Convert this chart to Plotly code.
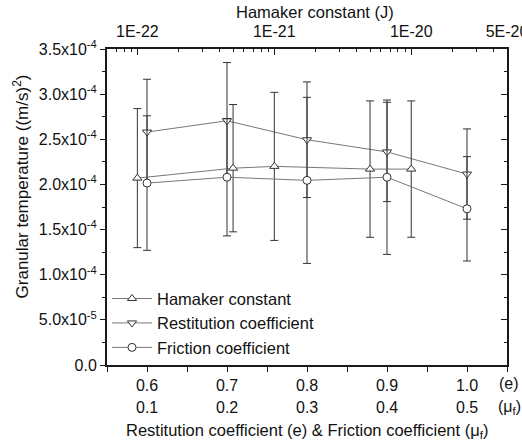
import plotly.graph_objects as go

# ---- data ----
hamaker_J = [1e-22, 5e-22, 1e-21, 5e-21, 1e-20]
hamaker_T = [2.07e-4, 2.18e-4, 2.20e-4, 2.17e-4, 2.17e-4]
hamaker_err = [0.77e-4, 0.705e-4, 0.82e-4, 0.755e-4, 0.755e-4]

restitution_e = [0.6, 0.7, 0.8, 0.9, 1.0]
restitution_T = [2.58e-4, 2.705e-4, 2.495e-4, 2.36e-4, 2.115e-4]
restitution_err = [0.585e-4, 0.645e-4, 0.64e-4, 0.55e-4, 0.50e-4]

friction_mu = [0.1, 0.2, 0.3, 0.4, 0.5]
friction_T = [2.015e-4, 2.08e-4, 2.045e-4, 2.08e-4, 1.73e-4]
friction_err = [0.745e-4, 0.65e-4, 0.92e-4, 0.855e-4, 0.578e-4]

e_ticks = [0.6, 0.7, 0.8, 0.9, 1.0]
e_ticktext = ["0.6", "0.7", "0.8", "0.9", "1.0"]
mu_ticks = [0.1, 0.2, 0.3, 0.4, 0.5]
mu_ticktext = ["0.1", "0.2", "0.3", "0.4", "0.5"]

hamaker_ticks = [1e-22, 1e-21, 1e-20, 5e-20]
hamaker_ticktext = ["1E-22", "1E-21", "1E-20", "5E-20"]
hamaker_minor = [m * 10.0 ** p for p in (-23, -22, -21, -20) for m in range(2, 10)
                 if 6e-23 < m * 10.0 ** p < 4.9e-20]

y_ticks = [0, 5e-5, 1e-4, 1.5e-4, 2e-4, 2.5e-4, 3e-4, 3.5e-4]
y_ticktext = ["0.0", "5.0x10<sup>-5</sup>", "1.0x10<sup>-4</sup>", "1.5x10<sup>-4</sup>",
              "2.0x10<sup>-4</sup>", "2.5x10<sup>-4</sup>", "3.0x10<sup>-4</sup>",
              "3.5x10<sup>-4</sup>"]

FONT = "Liberation Sans, Arial, sans-serif"
LINE = "#777777"
MK = "#333333"
AX = "#1a1a1a"

fig = go.Figure()

def series(x, y, err, name, symbol, xaxis, yaxis):
    return go.Scatter(
        x=x, y=y, name=name, xaxis=xaxis, yaxis=yaxis,
        mode="lines+markers",
        line=dict(color=LINE, width=1),
        marker=dict(symbol=symbol, size=8, color="white", line=dict(color=MK, width=1)),
        error_y=dict(type="data", array=err, visible=True, color=MK, thickness=1, width=4),
    )

fig.add_trace(series(hamaker_J, hamaker_T, hamaker_err, "Hamaker constant", "triangle-up", "x2", "y"))
fig.add_trace(series(restitution_e, restitution_T, restitution_err, "Restitution coefficient", "triangle-down", "x", "y"))
fig.add_trace(series(friction_mu, friction_T, friction_err, "Friction coefficient", "circle", "x3", "y"))
# pairs the right-hand tick axis with the main x axis so that it is drawn
fig.add_trace(go.Scatter(x=[None], y=[None], xaxis="x", yaxis="y2", showlegend=False, hoverinfo="skip"))

tickfont = dict(family=FONT, size=16, color="#111")

fig.update_layout(
    width=522, height=443,
    margin=dict(l=107, r=15, t=49, b=78, autoexpand=False),
    paper_bgcolor="white", plot_bgcolor="white",
    font=dict(family=FONT, size=16, color="#111"),
    showlegend=True,
    legend=dict(x=0.0, y=0.265, xanchor="left", yanchor="top",
                bgcolor="rgba(0,0,0,0)", font=dict(family=FONT, size=16.5, color="#111"),
                itemwidth=40, tracegroupgap=0),
    xaxis=dict(range=[0.55, 1.05], tickmode="array", tickvals=e_ticks, ticktext=e_ticktext,
               ticks="outside", ticklen=5, tickwidth=1, tickcolor=AX,
               minor=dict(ticks="outside", ticklen=5, tickwidth=1, tickcolor=AX, dtick=0.05, tick0=0.55),
               showline=True, linewidth=2, linecolor=AX, showgrid=False, zeroline=False,
               tickfont=tickfont, anchor="y", automargin=False),
    xaxis2=dict(type="log", overlaying="x", side="top", anchor="y",
                range=[-22.2218, -19.3009],
                tickmode="array", tickvals=hamaker_ticks, ticktext=hamaker_ticktext,
                ticks="inside", ticklen=6, tickwidth=1, tickcolor=AX,
                minor=dict(ticks="inside", ticklen=3, tickwidth=1, tickcolor=AX, tickvals=hamaker_minor),
                showline=True, linewidth=2, linecolor=AX, showgrid=False, zeroline=False,
                tickfont=tickfont, ticklabelstandoff=4, ticklabeloverflow="allow",
                automargin=False),
    xaxis3=dict(range=[0.05, 0.55], overlaying="x", anchor="y", visible=False, automargin=False),
    yaxis=dict(range=[0, 3.5e-4], tickmode="array", tickvals=y_ticks, ticktext=y_ticktext,
               ticks="outside", ticklen=5, tickwidth=1, tickcolor=AX,
               minor=dict(ticks="outside", ticklen=3, tickwidth=1, tickcolor=AX, dtick=2.5e-5, tick0=0),
               showline=True, linewidth=2, linecolor=AX, showgrid=False, zeroline=False,
               tickfont=tickfont, automargin=False),
    yaxis2=dict(range=[0, 3.5e-4], overlaying="y", side="right", anchor="x",
                tickmode="array", tickvals=y_ticks, showticklabels=False,
                ticks="inside", ticklen=6, tickwidth=1, tickcolor=AX,
                minor=dict(ticks="inside", ticklen=3, tickwidth=1, tickcolor=AX,
                           tickmode="array", tickvals=[v + 2.5e-5 for v in y_ticks[:-1]]),
                showline=True, linewidth=2, linecolor=AX, showgrid=False, zeroline=False,
                automargin=False),
)

# second row of bottom tick labels (friction coefficient), aligned with e ticks
for xe, lab in zip(e_ticks, mu_ticktext):
    fig.add_annotation(x=xe, xref="x", y=-0.133, yref="paper", text=lab, showarrow=False,
                       font=tickfont, xanchor="center", yanchor="middle")

fig.add_annotation(x=1.006, xref="paper", y=-0.06, yref="paper", text="(e)", showarrow=False,
                   font=tickfont, xanchor="center", yanchor="middle")
fig.add_annotation(x=1.006, xref="paper", y=-0.135, yref="paper", text="(μ<sub>f</sub>)", showarrow=False,
                   font=tickfont, xanchor="center", yanchor="middle")

fig.add_annotation(x=0.5, xref="paper", y=-0.208, yref="paper",
                   text="Restitution coefficient (e) & Friction coefficient (μ<sub>f</sub>)",
                   showarrow=False, font=dict(family=FONT, size=16.5, color="#111"),
                   xanchor="center", yanchor="middle")
fig.add_annotation(x=0.52, xref="paper", y=1.117, yref="paper", text="Hamaker constant (J)",
                   showarrow=False, font=dict(family=FONT, size=16.5, color="#111"),
                   xanchor="center", yanchor="middle")
fig.add_annotation(x=-0.215, xref="paper", y=0.565, yref="paper",
                   text="Granular temperature ((m/s)<sup>2</sup>)", textangle=-90,
                   showarrow=False, font=dict(family=FONT, size=17, color="#111"),
                   xanchor="center", yanchor="middle")

fig.write_html("out.html")
